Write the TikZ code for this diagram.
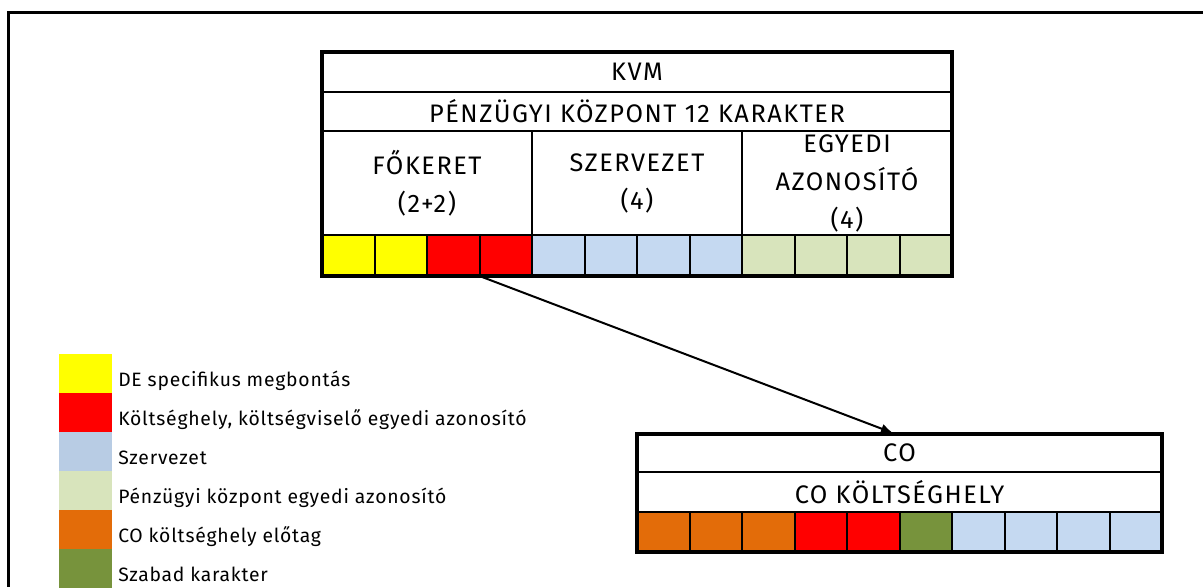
\documentclass[tikz,border=0pt]{standalone}
\usepackage{fontspec}
\setmainfont{Fira Sans}
\newfontfamily\capsfont[LetterSpace=6]{Fira Sans}
\newfontfamily\legfont[LetterSpace=4]{Fira Sans}
\usetikzlibrary{arrows.meta,positioning}

\definecolor{kvmyellow}{HTML}{FFFF00}
\definecolor{kvmred}{HTML}{FF0000}
\definecolor{kvmblue}{HTML}{C5D9F1}
\definecolor{legblue}{HTML}{B8CCE4}
\definecolor{kvmgreen}{HTML}{D8E4BC}
\definecolor{coorange}{HTML}{E36C09}
\definecolor{coolive}{HTML}{77933C}

\tikzset{
  cell/.style={draw, line width=1.5pt, inner sep=0pt, outer sep=0pt,
    minimum width=39.375pt, minimum height=30pt},
  row/.style={draw, line width=1.5pt, inner sep=0pt, outer sep=0pt, align=center,
    font=\capsfont\fontsize{19}{28.5}\selectfont},
  legbox/.style={inner sep=0pt, outer sep=0pt, minimum width=39.75pt, minimum height=29.25pt},
  legtext/.style={anchor=base west, inner sep=0pt, font=\legfont\fontsize{14.5}{16}\selectfont},
  frame/.style={line width=3pt}
}

\begin{document}
\begin{tikzpicture}[x=0.75pt,y=-0.75pt]
        \useasboundingbox (0,0) rectangle (1203,587);
        \draw[line width=2.25pt] (1203,12) -- (8,12) -- (8,587);

        % KVM
        \node[row, minimum width=472.5pt, minimum height=30pt] (kvmtitle) at (637,72) {KVM};
        \node[row, minimum width=472.5pt, minimum height=29.25pt] (kvmsize) at (637,111.5) {PÉNZÜGYI KÖZPONT 12 KARAKTER};
        \node[row, minimum width=157.5pt, minimum height=78pt] (fokeret) at (427,183) {FŐKERET\\(2+2)};
        \node[row, minimum width=157.5pt, minimum height=78pt] (szervezet) at (637,183) {SZERVEZET\\(4)};
        \node[row, minimum width=157.5pt, minimum height=78pt] (egyedi) at (847,183) {EGYEDI\\AZONOSÍTÓ\\(4)};
        \foreach \c [count=\i] in {kvmyellow,kvmyellow,kvmred,kvmred,kvmblue,kvmblue,kvmblue,kvmblue,kvmgreen,kvmgreen,kvmgreen,kvmgreen}
            \node[cell, minimum height=30.75pt, fill=\c] (kvm\i) at ({322+52.5*(\i-0.5)},255.5) {};

        % arrow
        \coordinate (coin) at (893,433);
        \draw[line width=1.5pt, -{Latex[length=9pt,width=7.5pt]}] (kvm3.south east) -- (coin);
        \draw[frame] (kvmtitle.north west) rectangle (kvm12.south east);

        % CO
        \node[row, minimum width=393.75pt, minimum height=28.5pt] (cotitle) at (899.5,453) {CO};
        \node[row, minimum width=393.75pt, minimum height=30pt] (cosize) at (899.5,492) {CO KÖLTSÉGHELY};
        \foreach \c [count=\i] in {coorange,coorange,coorange,kvmred,kvmred,coolive,kvmblue,kvmblue,kvmblue,kvmblue}
            \node[cell, fill=\c] (co\i) at ({637+52.5*(\i-0.5)},532) {};
        \draw[frame] (cotitle.north west) rectangle (co10.south east);

        % legend
        \foreach \c/\t [count=\i] in {kvmyellow/DE specifikus megbontás,
                kvmred/{Költséghely, költségviselő egyedi azonosító},
                legblue/Szervezet,
                kvmgreen/Pénzügyi központ egyedi azonosító,
                coorange/CO költséghely előtag,
                coolive/Szabad karakter} {
            \node[legbox, fill=\c] (leg\i) at (85.5,{373.5+39*(\i-1)}) {};
            \node[legtext] (legtext\i) at ([xshift=4.5pt,yshift=-9.75pt]leg\i.east) {\t};
        }
\end{tikzpicture}
\end{document}
